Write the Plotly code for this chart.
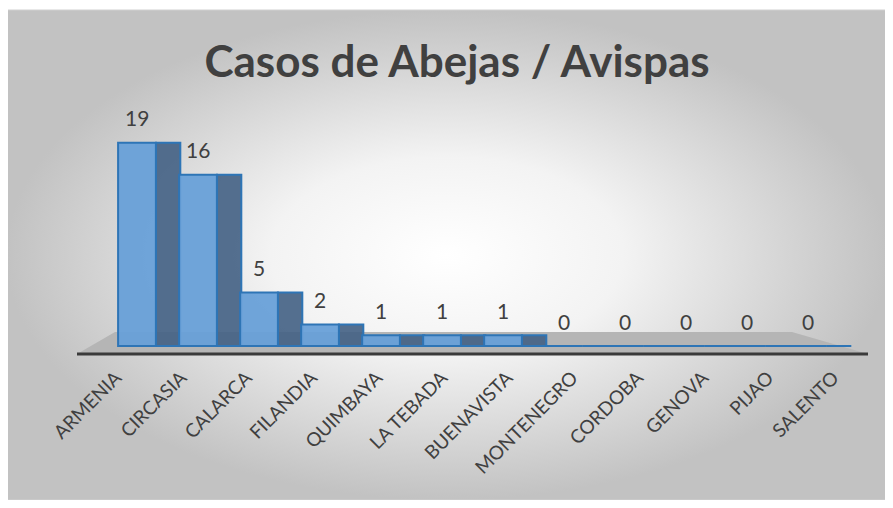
import plotly.graph_objects as go

# datos
municipios = ["ARMENIA", "CIRCASIA", "CALARCA", "FILANDIA", "QUIMBAYA", "LA TEBADA",
              "BUENAVISTA", "MONTENEGRO", "CORDOBA", "GENOVA", "PIJAO", "SALENTO"]
casos = [19, 16, 5, 2, 1, 1, 1, 0, 0, 0, 0, 0]
titulo = "Casos de Abejas / Avispas"

# geometria en pixeles de pantalla (la pagina tiene 8 px de margen)
OFF = 8
W, H = 893 - OFF, 508 - 2 * OFF
cx0, dx = 137, 61        # centro de la primera barra, ancho de categoria
lx0, ldx = 116, 65.2     # etiquetas del eje (el borde frontal del piso es mas ancho)
base_px, dy = 346, 10.7  # base de las barras, pixeles por caso

def px_x(p):
    return (p - cx0) / dx

def px_y(p):
    return (base_px - p) / dy

n = len(municipios)
idx = list(range(n))
texto_cor = "#404040"
fuente = "Lato"
rx = [px_x(OFF), px_x(OFF + W)]
ry = [px_y(OFF + H), px_y(OFF)]
rx_lab = [(OFF - lx0) / ldx, (OFF + W - lx0) / ldx]

fig = go.Figure()

# eje de etiquetas (traza invisible)
fig.add_trace(go.Scatter(x=idx, y=[0] * n, mode="markers", marker=dict(opacity=0),
                         hoverinfo="skip", showlegend=False))

# fondo con degradado radial
fig.add_trace(go.Scatter(
    x=[px_x(6), px_x(888), px_x(888), px_x(6), px_x(6)],
    y=[px_y(10), px_y(10), px_y(500), px_y(500), px_y(10)],
    xaxis="x2", yaxis="y2",
    mode="lines", fill="toself",
    line=dict(color="#d0d0d0", width=1),
    fillgradient=dict(type="radial",
                      colorscale=[[0, "#ffffff"], [0.4, "#f3f3f3"], [1, "#c2c2c2"]]),
    hoverinfo="skip", showlegend=False))

# piso
fig.add_trace(go.Scatter(
    x=[px_x(77), px_x(868), px_x(792), px_x(115), px_x(77)],
    y=[px_y(354), px_y(354), px_y(332), px_y(332), px_y(354)],
    xaxis="x2", yaxis="y2",
    mode="lines", fill="toself", line=dict(width=0), fillcolor="#b5b5b5",
    hoverinfo="skip", showlegend=False))

# linea oscura del piso
fig.add_trace(go.Scatter(
    x=[px_x(77), px_x(868)], y=[px_y(354), px_y(354)],
    xaxis="x2", yaxis="y2",
    mode="lines", line=dict(color="#3a3a3a", width=3),
    hoverinfo="skip", showlegend=False))

# cara lateral oscura
fig.add_trace(go.Bar(
    x=idx, y=casos, width=0.4, offset=0.31, xaxis="x3", yaxis="y3",
    marker=dict(color="rgba(66,96,132,0.9)", line=dict(color="#2e75b6", width=2)),
    hoverinfo="skip", showlegend=False))

# cara frontal
fig.add_trace(go.Bar(
    x=idx, y=casos, width=0.62, offset=-0.31, xaxis="x3", yaxis="y3",
    marker=dict(color="rgba(104,160,216,0.95)", line=dict(color="#2e75b6", width=2)),
    showlegend=False))

# etiquetas de datos
for i, v in zip(idx, casos):
    fig.add_annotation(x=i, y=v, xref="x3", yref="y3", text=str(v), showarrow=False,
                       yshift=25, yanchor="middle",
                       font=dict(family=fuente, size=21, color=texto_cor))

fig.update_layout(
    width=W, height=H,
    margin=dict(l=0, r=0, t=0, b=0),
    paper_bgcolor="white", plot_bgcolor="rgba(0,0,0,0)",
    barmode="overlay",
    font=dict(family=fuente, color=texto_cor),
    title=dict(text="<b>" + titulo + "</b>", x=(457 - OFF) / W, xanchor="center",
               y=1 - (62 - OFF) / H, yanchor="middle",
               font=dict(family=fuente, size=44, color=texto_cor)),
    xaxis=dict(domain=[0, 1], range=rx_lab,
               tickmode="array", tickvals=idx, ticktext=municipios,
               tickangle=-45, tickfont=dict(size=19, color=texto_cor),
               anchor="free", position=1 - (362 - OFF) / H,
               showgrid=False, zeroline=False, showline=False, ticks=""),
    yaxis=dict(domain=[0, 1], range=ry, visible=False),
    xaxis2=dict(overlaying="x", range=rx, visible=False),
    yaxis2=dict(overlaying="y", range=ry, visible=False),
    xaxis3=dict(overlaying="x", range=rx, visible=False),
    yaxis3=dict(overlaying="y", range=ry, visible=False),
)

fig.write_html("out.html")
